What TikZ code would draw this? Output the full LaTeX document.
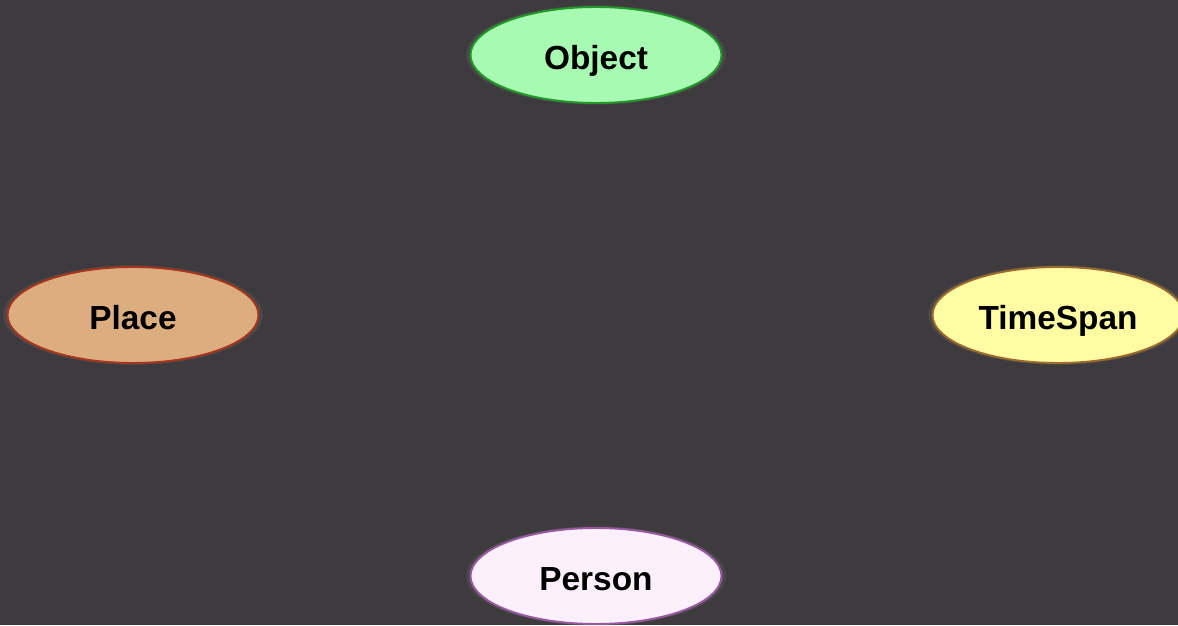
\documentclass[tikz,border=0pt]{standalone}
\usepackage{fontspec}
\setsansfont{Liberation Sans}
\usepackage{tikz}
\usetikzlibrary{shapes.geometric,shadows}
\definecolor{bgcol}{HTML}{3D3B3E}
\definecolor{objfill}{HTML}{A8F9B2}
\definecolor{objline}{HTML}{1F9A26}
\definecolor{placefill}{HTML}{DCAE7F}
\definecolor{placeline}{HTML}{A8341C}
\definecolor{timefill}{HTML}{FFFDA3}
\definecolor{timeline}{HTML}{9C6A2A}
\definecolor{personfill}{HTML}{FDF0FD}
\definecolor{personline}{HTML}{9A5AA2}
\tikzset{class/.style={ellipse, draw, line width=1.1pt, minimum width=5.02cm, minimum height=1.92cm,
  inner sep=0pt, text height=17pt, text depth=0pt,
  font=\sffamily\bfseries\fontsize{19}{22}\selectfont, text=black,
  general shadow={fill=white, opacity=0.07, shadow scale=1.035}}}

\begin{document}
\begin{tikzpicture}
\fill[bgcol] (0,0) rectangle (23.56,12.5);
\useasboundingbox (0,0) rectangle (23.56,12.5);
\node[class, fill=objfill, draw=objline] (object) at (11.92,11.4) {Object};
\node[class, fill=placefill, draw=placeline] (place) at (2.66,6.2) {Place};
\node[class, fill=timefill, draw=timeline] (timespan) at (21.16,6.2) {TimeSpan};
\node[class, fill=personfill, draw=personline] (person) at (11.92,0.98) {Person};
\end{tikzpicture}
\end{document}
